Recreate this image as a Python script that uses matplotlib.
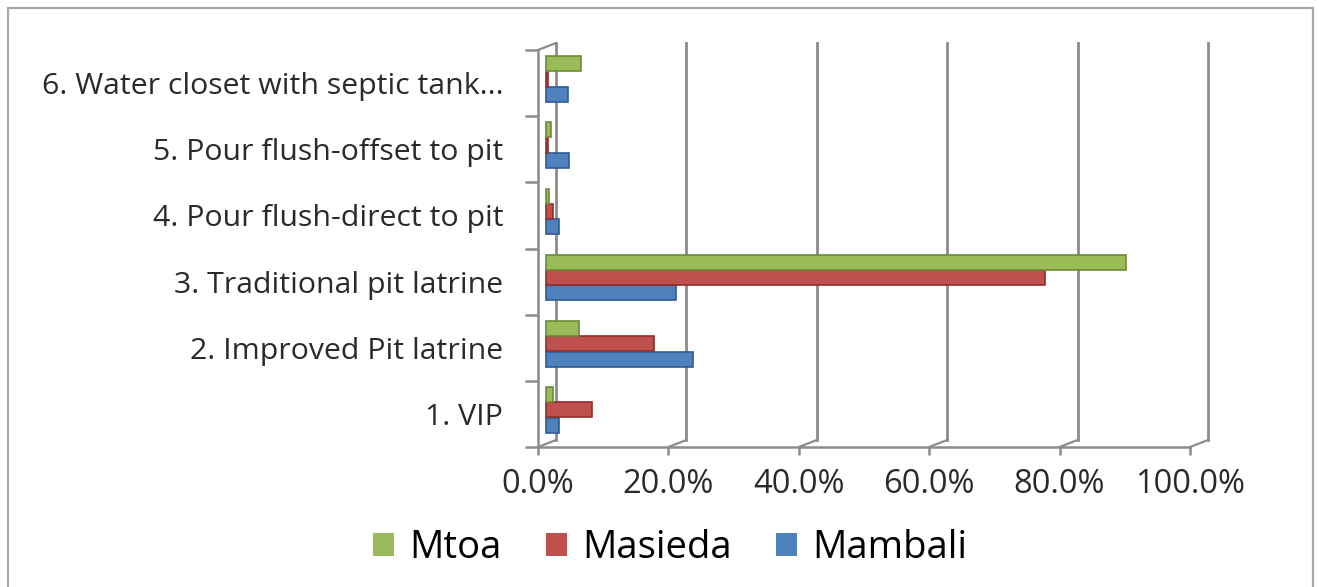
import matplotlib
matplotlib.use("Agg")
import matplotlib.pyplot as plt
import matplotlib.transforms as mtransforms
from matplotlib.patches import Rectangle, Patch
import numpy as np

plt.rcParams['font.family'] = ['Open Sans', 'DejaVu Sans']

# Data (percent of households)
categories = ['1. VIP', '2. Improved Pit latrine', '3. Traditional pit latrine',
              '4. Pour flush-direct to pit', '5. Pour flush-offset to pit',
              '6. Water closet with septic tank...']
mambali = [2.0, 22.5, 20.0, 2.0, 3.6, 3.3]
masieda = [7.0, 16.5, 76.5, 1.0, 0.3, 0.3]
mtoa = [1.0, 5.0, 89.0, 0.5, 0.8, 5.3]
xticks = [0, 20, 40, 60, 80, 100]
xticklabels = ['0.0%', '20.0%', '40.0%', '60.0%', '80.0%', '100.0%']

colors = {'Mtoa': '#9BBB59', 'Masieda': '#C0504D', 'Mambali': '#4F81BD'}
edges = {'Mtoa': '#6E8A3A', 'Masieda': '#8E2F2C', 'Mambali': '#2E5B93'}
grey = '#8C8C8C'

fig = plt.figure(figsize=(13.19, 5.87), dpi=100)
fig.patches.append(Rectangle((8 / 1319, -0.01), 1305 / 1319, 1 - 8 / 587 + 0.01,
                             transform=fig.transFigure, fill=False,
                             edgecolor='#A8A8A8', linewidth=1.6))
# axes = front plane of the 3-D chart
ax = fig.add_axes([538 / 1319, 1 - 447 / 587, 652 / 1319, 397 / 587])
ax.set_xlim(0, 100)
ax.set_ylim(-0.5, len(categories) - 0.5)

back = mtransforms.offset_copy(ax.transData, fig=fig, x=18, y=7, units='dots')
mid = mtransforms.offset_copy(ax.transData, fig=fig, x=8, y=4, units='dots')

y = np.arange(len(categories))
h = 0.225
off = 0.232
series = [('Mambali', mambali, -off), ('Masieda', masieda, 0.0), ('Mtoa', mtoa, off)]
for name, vals, dy in series:
    bars = ax.barh(y + dy, vals, height=h, color=colors[name], edgecolor=edges[name],
                   linewidth=1.2, label=name, zorder=3)
    for b in bars:
        b.set_transform(mid)

# back wall grid lines
for xv in xticks:
    ax.plot([xv, xv], [-0.5, len(categories) - 0.5], color=grey, linewidth=2,
            transform=back, zorder=1, clip_on=False)
    # perspective connector to the floor edge
    ax.annotate('', xy=(xv, -0.5), xycoords='data',
                xytext=(18, 7), textcoords='offset pixels',
                arrowprops=dict(arrowstyle='-', color=grey, lw=1.6,
                                shrinkA=0, shrinkB=0),
                annotation_clip=False)
ax.annotate('', xy=(0, len(categories) - 0.5), xycoords='data',
            xytext=(18, 7), textcoords='offset pixels',
            arrowprops=dict(arrowstyle='-', color=grey, lw=1.6, shrinkA=0, shrinkB=0),
            annotation_clip=False)

for s in ['top', 'right']:
    ax.spines[s].set_visible(False)
for s in ['left', 'bottom']:
    ax.spines[s].set_color(grey)
    ax.spines[s].set_linewidth(1.8)

ax.set_yticks(np.arange(-0.5, len(categories), 1.0))
ax.set_yticklabels([])
ax.set_yticks(y, minor=True)
ax.set_yticklabels(categories, minor=True, fontsize=21.8, color='#2A2A2A')
ax.tick_params(axis='y', which='major', length=9.5, width=1.8, color=grey, direction='out')
ax.tick_params(axis='y', which='minor', length=0, pad=25)

ax.set_xticks(xticks)
ax.set_xticklabels(xticklabels, fontsize=23.5, color='#2A2A2A')
ax.tick_params(axis='x', length=6, width=1.8, color=grey, direction='out', pad=9)

legend_names = ['Mtoa', 'Masieda', 'Mambali']
handles = [Patch(facecolor=colors[n], edgecolor='none') for n in legend_names]
fig.legend(handles, legend_names,
           loc='center', bbox_to_anchor=(0.508, 0.066), ncol=3, frameon=False,
           fontsize=27.5, handlelength=0.55, handleheight=0.55, handletextpad=0.4,
           columnspacing=1.15)

fig.savefig('out.png', dpi=100)
